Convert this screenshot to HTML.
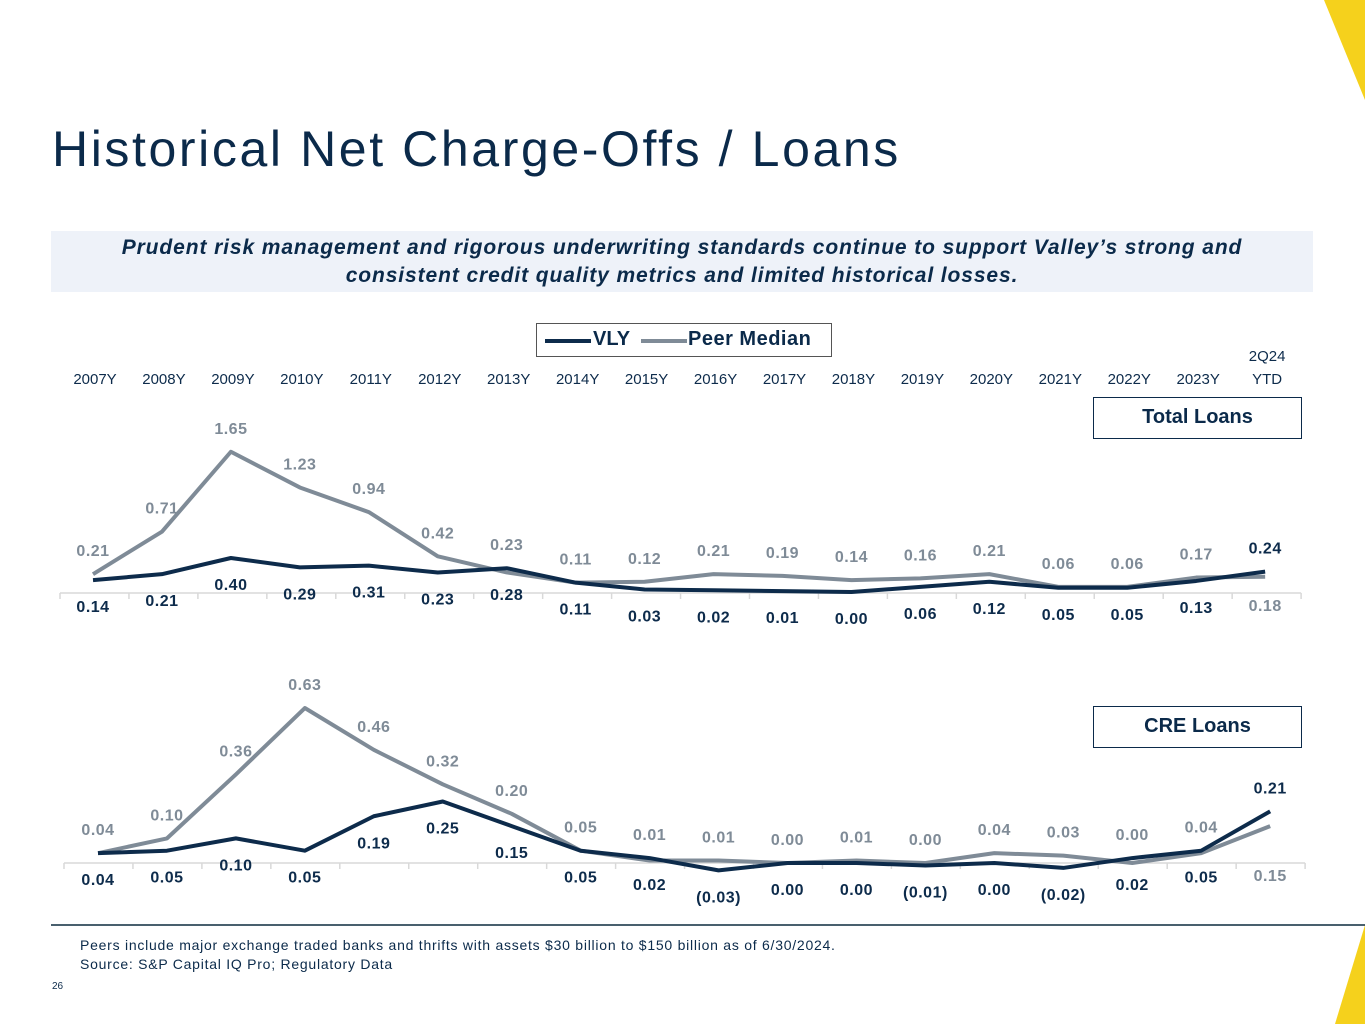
<!DOCTYPE html>
<html><head><meta charset="utf-8">
<style>
body{margin:0;width:1365px;height:1024px;overflow:hidden;background:#fff;font-family:"Liberation Sans",sans-serif;position:relative}
.abs{position:absolute}
</style></head>
<body>
<svg class="abs" style="left:0;top:0" width="1365" height="1024">
<polygon points="1324,0 1365,0 1365,100" fill="#f5d11c"/>
<polygon points="1365,925 1335,1024 1365,1024" fill="#f5d11c"/>
<line x1="51" y1="925" x2="1365" y2="925" stroke="#0d2b3e" stroke-width="1.5"/>
</svg>
<div class="abs" style="left:52px;top:120px;font-size:50px;letter-spacing:2.6px;color:#0b2a4a;white-space:nowrap">Historical Net Charge-Offs / Loans</div>
<div class="abs" style="left:51px;top:231px;width:1262px;height:61px;background:#eef2f9;color:#0b2a4a;font-weight:bold;font-style:italic;font-size:21px;letter-spacing:0.9px;text-align:center;line-height:28px;padding-top:3px;box-sizing:border-box">Prudent risk management and rigorous underwriting standards continue to support Valley’s strong and<br>consistent credit quality metrics and limited historical losses.</div>
<div class="abs" style="left:80px;top:936px;font-size:14px;letter-spacing:0.75px;color:#0b2a4a;line-height:19px;white-space:nowrap">Peers include major exchange traded banks and thrifts with assets $30 billion to $150 billion as of 6/30/2024.<br>Source: S&amp;P Capital IQ Pro; Regulatory Data</div>
<div class="abs" style="left:52px;top:981px;font-size:10px;color:#0b2a4a">26</div>

<svg id="chart" class="abs" style="left:0;top:0" width="1365" height="1024"></svg>
<script>
const categories=["2007Y","2008Y","2009Y","2010Y","2011Y","2012Y","2013Y","2014Y","2015Y","2016Y","2017Y","2018Y","2019Y","2020Y","2021Y","2022Y","2023Y","2Q24 YTD"];
const totalVly=[0.14,0.21,0.40,0.29,0.31,0.23,0.28,0.11,0.03,0.02,0.01,0.00,0.06,0.12,0.05,0.05,0.13,0.24];
const totalPeer=[0.21,0.71,1.65,1.23,0.94,0.42,0.23,0.11,0.12,0.21,0.19,0.14,0.16,0.21,0.06,0.06,0.17,0.18];
const creVly=[0.04,0.05,0.10,0.05,0.19,0.25,0.15,0.05,0.02,-0.03,0.00,0.00,-0.01,0.00,-0.02,0.02,0.05,0.21];
const crePeer=[0.04,0.10,0.36,0.63,0.46,0.32,0.20,0.05,0.01,0.01,0.00,0.01,0.00,0.04,0.03,0.00,0.04,0.15];

const NS="http://www.w3.org/2000/svg";
const svg=document.getElementById('chart');
const NAVY="#0d2b4b",GRAY="#7f8b97";
function mk(tag,attrs,parent){const e=document.createElementNS(NS,tag);for(const k in attrs)e.setAttribute(k,attrs[k]);(parent||svg).appendChild(e);return e;}
function fmt(v){return v<0?"("+Math.abs(v).toFixed(2)+")":v.toFixed(2);}

const xCat=i=>93+i*68.95;
categories.forEach((c,i)=>{
  if(c.indexOf(" ")>0){
    const p=c.split(" ");
    const t1=mk('text',{x:xCat(i)+2,y:361,'text-anchor':'middle','font-size':15,fill:NAVY});t1.textContent=p[0];
    
    
    const t2=mk('text',{x:xCat(i)+2,y:384,'text-anchor':'middle','font-size':15,fill:NAVY});t2.textContent=p[1];
    
    
  }else{
    const t=mk('text',{x:xCat(i)+2,y:384,'text-anchor':'middle','font-size':15,fill:NAVY});t.textContent=c;
    
    
  }
});

function drawPanel(name,vly,peer,x0,axisY,zeroY,scale,tickX0){
  const n=categories.length;
  const xs=i=>x0+i*68.95;
  const ys=v=>zeroY-v*scale;
  const ax=mk('line',{x1:tickX0,y1:axisY,x2:tickX0+n*68.95,y2:axisY,stroke:"#d9d9d9",'stroke-width':1.5});
  
  
  for(let i=0;i<=n;i++){const tk=mk('line',{x1:tickX0+i*68.95,y1:axisY,x2:tickX0+i*68.95,y2:axisY+6,stroke:"#d9d9d9",'stroke-width':1.5});
    
    }
  const pp=mk('polyline',{points:peer.map((v,i)=>xs(i)+","+ys(v)).join(" "),fill:"none",stroke:GRAY,'stroke-width':4,'stroke-linejoin':'round'});
  
  
  const vp=mk('polyline',{points:vly.map((v,i)=>xs(i)+","+ys(v)).join(" "),fill:"none",stroke:NAVY,'stroke-width':4,'stroke-linejoin':'round'});
  
  
  for(let i=0;i<n;i++){
    const last=i===n-1;
    const yp=ys(peer[i]),yv=ys(vly[i]);
    const peerUp=!last;
    const py=peerUp?Math.min(yp,yv)-18:Math.max(yp,yv,axisY-10)+28;
    const vy=peerUp?yv+32:Math.min(yp,yv)-18;
    const tp=mk('text',{x:xs(i),y:py,'text-anchor':'middle','font-size':16,'font-weight':'bold','letter-spacing':0.5,fill:GRAY});tp.textContent=fmt(peer[i]);
    
    
    const tv=mk('text',{x:xs(i),y:vy,'text-anchor':'middle','font-size':16,'font-weight':'bold','letter-spacing':0.5,fill:NAVY});tv.textContent=fmt(vly[i]);
    
    
  }
}
drawPanel('total-loans',totalVly,totalPeer,93,593,592,85,60);
drawPanel('cre-loans',creVly,crePeer,98,863,863,246,64);
</script>

<div class="abs" style="left:536px;top:323px;width:296px;height:34px;border:1px solid #555;box-sizing:border-box;font-weight:bold;font-size:20px;color:#0b2a4a;line-height:31px">
<span style="position:absolute;left:8px;top:15px;width:46px;height:4px;background:#0d2b4b"></span><span style="position:absolute;left:56px">VLY</span>
<span style="position:absolute;left:104px;top:15px;width:46px;height:4px;background:#7f8b97"></span><span style="position:absolute;left:151px;letter-spacing:0.5px">Peer Median</span>
</div>
<div class="abs" style="left:1093px;top:397px;width:209px;height:42px;border:1.5px solid #0b2a4a;box-sizing:border-box;text-align:center;line-height:39px;font-weight:bold;font-size:20px;color:#0b2a4a">Total Loans</div>
<div class="abs" style="left:1093px;top:706px;width:209px;height:42px;border:1.5px solid #0b2a4a;box-sizing:border-box;text-align:center;line-height:39px;font-weight:bold;font-size:20px;color:#0b2a4a">CRE Loans</div>
</body></html>
